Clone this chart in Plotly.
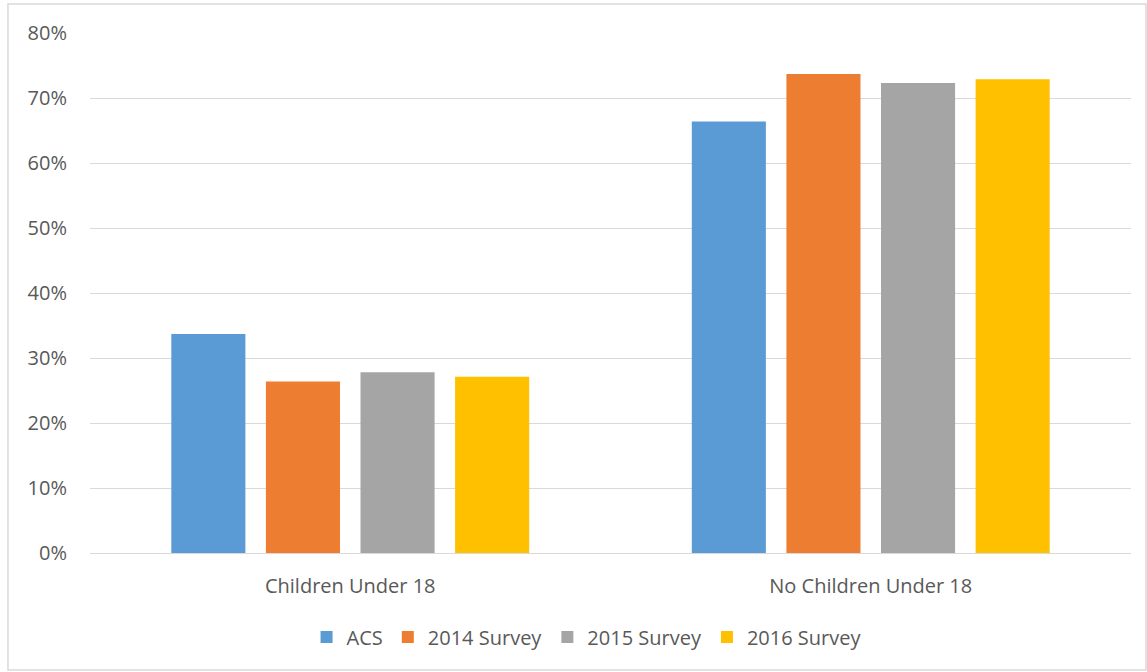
import plotly.graph_objects as go

categories = ["Children Under 18", "No Children Under 18"]
series_names = ["ACS", "2014 Survey", "2015 Survey", "2016 Survey"]
acs = [0.337, 0.664]
s2014 = [0.264, 0.737]
s2015 = [0.278, 0.723]
s2016 = [0.271, 0.729]
colors = ["#5B9BD5", "#ED7D31", "#A5A5A5", "#FFC000"]
y_ticks = [0, 0.1, 0.2, 0.3, 0.4, 0.5, 0.6, 0.7, 0.8]

FONT = "Open Sans"
TXT = "#595959"
FS = 20

fig = go.Figure()
for name, vals, c in zip(series_names, [acs, s2014, s2015, s2016], colors):
    fig.add_trace(go.Bar(x=categories, y=vals, name=name,
                         marker=dict(color=c, line=dict(width=0))))

fig.update_layout(
    width=1147, height=672,
    margin=dict(l=90, r=16, t=33, b=119),
    paper_bgcolor="white", plot_bgcolor="white",
    barmode="group", bargap=0.273, bargroupgap=0.217,
    font=dict(family=FONT, size=FS, color=TXT),
    showlegend=True,
    legend=dict(orientation="h", x=0.477, xanchor="center", y=-0.1615, yanchor="middle",
                font=dict(family=FONT, size=FS, color=TXT), itemwidth=30,
                traceorder="normal"),
    xaxis=dict(showgrid=False, showline=False, ticks="", zeroline=False,
               ticklabelstandoff=19,
               tickfont=dict(family=FONT, size=FS, color=TXT)),
    yaxis=dict(range=[0, 0.8], tickvals=y_ticks, tickformat=".0%",
               showgrid=True, gridcolor="#D9D9D9", gridwidth=1,
               zeroline=True, zerolinecolor="#D9D9D9", zerolinewidth=1,
               showline=False, ticks="", ticklen=0, ticklabelstandoff=22,
               tickfont=dict(family=FONT, size=FS, color=TXT)),
    shapes=[dict(type="rect", xref="paper", yref="paper",
                 x0=-0.0788, x1=1.0144, y0=-0.225, y1=1.0558,
                 line=dict(color="#D9D9D9", width=1.5), fillcolor="rgba(0,0,0,0)",
                 layer="below")],
)

fig.write_html("out.html")
